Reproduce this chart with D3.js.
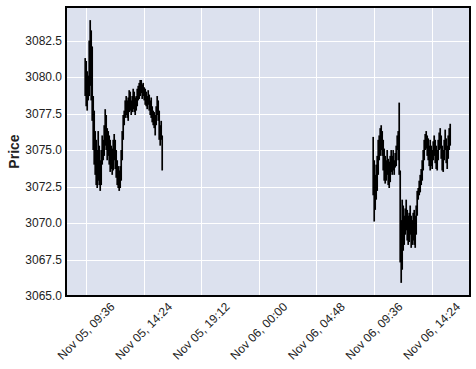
<!DOCTYPE html>
<html><head><meta charset="utf-8">
<script src="https://cdn.jsdelivr.net/npm/d3@7"></script>
<style>body{margin:0;background:#fff}svg{display:block}</style>
</head><body><svg id="c" width="476" height="369"></svg>
<script>
// Session starts (5-minute bars)
const sessionStarts = ["2020-11-05T09:30", "2020-11-06T09:30"];
const barMinutes = 5;
const day1High = [3081.3,3081.1,3080.4,3080.1,3082.5,3083.9,3083.2,3082.1,3078.7,3077.7,3076.3,3075.7,3075.0,3076.3,3075.3,3074.3,3075.0,3076.0,3075.7,3076.7,3077.8,3077.4,3076.5,3076.3,3076.0,3075.7,3075.3,3075.1,3075.7,3076.1,3075.7,3075.0,3074.3,3073.9,3073.6,3073.9,3075.0,3076.3,3077.4,3077.7,3078.4,3078.7,3078.4,3078.6,3079.1,3079.0,3078.4,3078.7,3079.2,3079.0,3078.6,3078.7,3079.2,3079.4,3079.6,3079.8,3079.8,3079.5,3079.6,3079.3,3079.2,3079.0,3078.7,3079.1,3078.8,3078.4,3078.6,3078.0,3077.7,3077.6,3077.4,3078.0,3078.7,3078.4,3077.7,3076.7,3077.0,3076.0];
const day1Low = [3078.7,3078.0,3077.7,3078.4,3078.7,3079.4,3078.4,3077.0,3075.0,3074.0,3073.3,3072.6,3072.4,3072.9,3072.6,3072.2,3072.6,3074.0,3074.3,3074.6,3075.3,3075.0,3074.3,3074.6,3074.0,3073.5,3073.7,3073.3,3073.6,3074.3,3073.7,3073.1,3072.6,3072.4,3072.2,3072.4,3072.9,3074.3,3075.7,3076.7,3077.2,3077.4,3077.2,3077.0,3077.6,3077.7,3077.4,3077.6,3077.8,3077.6,3077.4,3077.7,3078.0,3078.4,3078.5,3078.7,3078.9,3078.5,3078.7,3078.4,3078.1,3078.0,3077.8,3078.1,3077.7,3077.4,3077.2,3076.9,3076.7,3076.5,3076.0,3076.7,3077.4,3077.0,3075.7,3075.3,3075.7,3073.6];
const day2High = [3075.9,3074.3,3073.3,3074.0,3074.6,3075.7,3076.0,3076.5,3076.7,3076.3,3075.7,3075.1,3074.6,3074.3,3075.0,3074.4,3074.2,3074.6,3075.0,3074.6,3075.0,3074.3,3074.8,3075.3,3076.0,3076.3,3078.25,3073.6,3070.2,3071.6,3071.2,3070.5,3071.0,3071.6,3070.9,3070.5,3070.7,3071.2,3070.5,3070.2,3070.7,3070.9,3070.5,3071.2,3072.2,3072.4,3072.9,3073.3,3073.7,3074.3,3075.0,3075.7,3076.1,3076.3,3076.0,3075.8,3075.3,3075.7,3075.3,3075.0,3075.6,3076.0,3075.7,3075.3,3075.0,3075.7,3076.2,3076.5,3076.0,3075.3,3075.0,3075.7,3076.4,3075.8,3075.3,3076.0,3076.5,3076.8];
const day2Low = [3071.9,3070.1,3070.9,3071.6,3072.2,3073.3,3074.3,3074.6,3075.0,3074.6,3073.6,3072.9,3072.7,3072.9,3073.3,3072.6,3072.4,3072.8,3073.5,3073.3,3073.6,3073.3,3073.8,3073.9,3075.0,3074.3,3073.3,3067.3,3065.9,3066.8,3068.1,3068.5,3069.2,3069.5,3068.8,3068.5,3068.7,3069.2,3068.3,3068.5,3068.8,3068.5,3068.3,3069.2,3070.5,3071.6,3071.9,3072.1,3072.6,3072.9,3073.6,3074.3,3075.0,3075.1,3074.6,3074.3,3073.9,3073.6,3073.9,3073.7,3074.3,3074.6,3074.1,3073.7,3073.6,3074.3,3075.0,3075.1,3074.4,3073.6,3073.5,3074.3,3075.0,3074.1,3073.7,3074.4,3075.0,3075.3];
const xTicks = ["2020-11-05T09:36","2020-11-05T14:24","2020-11-05T19:12","2020-11-06T00:00","2020-11-06T04:48","2020-11-06T09:36","2020-11-06T14:24"];
const yTicks = [3065.0,3067.5,3070.0,3072.5,3075.0,3077.5,3080.0,3082.5];
const xDomain = ["2020-11-05T07:56","2020-11-06T17:36"];
const yDomain = [3065.0, 3084.8];

const parse = d3.timeParse("%Y-%m-%dT%H:%M");
const bars = [];
[[day1High, day1Low], [day2High, day2Low]].forEach(([hi, lo], s) => {
  const t0 = parse(sessionStarts[s]);
  hi.forEach((h, i) => bars.push({t: d3.timeMinute.offset(t0, i * barMinutes + barMinutes / 2), h, l: lo[i]}));
});

const svg = d3.select("#c");
const L = 66, R = 470, T = 7, B = 296;
const x = d3.scaleTime().domain(xDomain.map(parse)).range([L, R]);
const y = d3.scaleLinear().domain(yDomain).range([B, T]);
const font = "'Liberation Sans', Arial, sans-serif";

svg.append("rect").attr("x", L).attr("y", T).attr("width", R - L).attr("height", B - T).attr("fill", "#DCE1EE");

const g = svg.append("g");
g.selectAll(".gx").data(xTicks.map(parse)).join("line")
  .attr("x1", d => Math.round(x(d)) + 0.5).attr("x2", d => Math.round(x(d)) + 0.5)
  .attr("y1", T).attr("y2", B).attr("stroke", "#fff").attr("stroke-width", 1);
g.selectAll(".gy").data(yTicks).join("line")
  .attr("x1", L).attr("x2", R)
  .attr("y1", d => Math.round(y(d)) + 0.5).attr("y2", d => Math.round(y(d)) + 0.5)
  .attr("stroke", "#fff").attr("stroke-width", 1);

svg.append("g").selectAll("line").data(bars).join("line")
  .attr("x1", d => x(d.t)).attr("x2", d => x(d.t))
  .attr("y1", d => y(d.h)).attr("y2", d => y(d.l))
  .attr("stroke", "#000").attr("stroke-width", 1.7);

svg.append("rect").attr("x", L).attr("y", T).attr("width", R - L).attr("height", B - T)
  .attr("fill", "none").attr("stroke", "#000").attr("stroke-width", 2);

// y tick labels
svg.append("g").selectAll("text").data(yTicks).join("text")
  .attr("x", 62).attr("y", d => y(d)).attr("dy", "0.35em")
  .attr("text-anchor", "end").attr("font-family", font).attr("font-size", 12).attr("fill", "#222")
  .text(d => d3.format(".1f")(d));

// x tick labels
const fmt = d3.timeFormat("%b %d, %H:%M");
svg.append("g").selectAll("text").data(xTicks.map(parse)).join("text")
  .attr("transform", d => `translate(${x(d)},331) rotate(-45)`)
  .attr("text-anchor", "middle").attr("dy", "0.35em")
  .attr("font-family", font).attr("font-size", 12).attr("fill", "#222")
  .text(d => fmt(d));

svg.append("text").attr("transform", `translate(19,${(T + B) / 2}) rotate(-90)`)
  .attr("text-anchor", "middle").attr("font-family", font).attr("font-size", 14)
  .attr("font-weight", "bold").attr("fill", "#222").text("Price");
</script></body></html>
